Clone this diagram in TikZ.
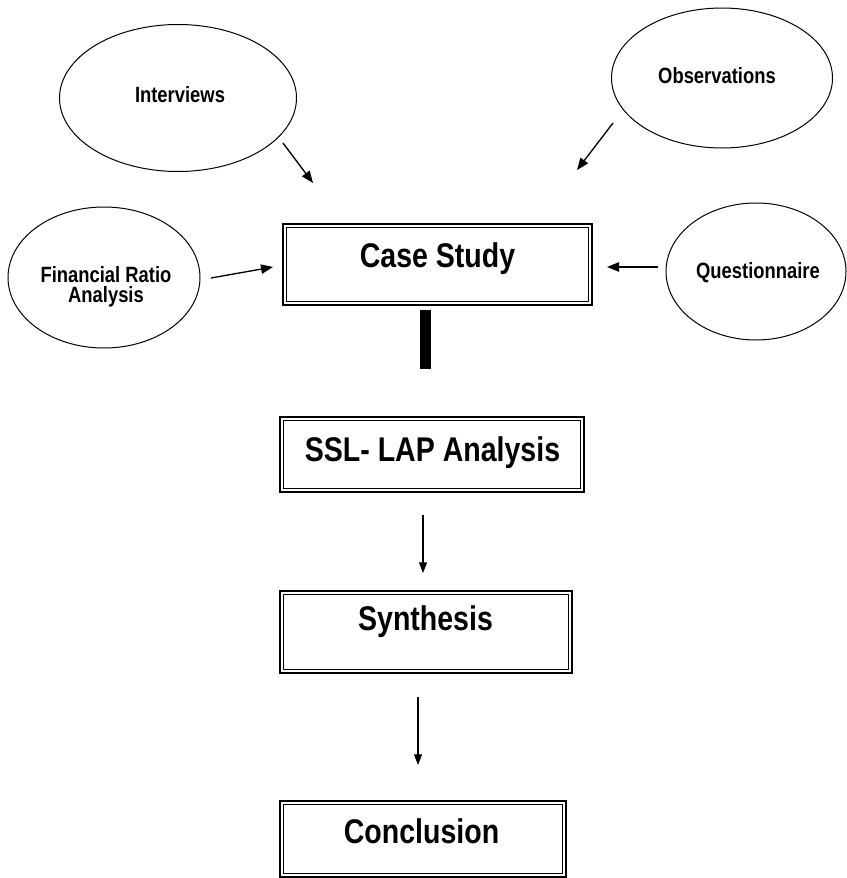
\documentclass[tikz,border=0pt]{standalone}
\usepackage{fontspec}
\setmainfont{Liberation Sans}
\usetikzlibrary{shapes.geometric,arrows.meta}
\newcommand\vst[1]{\scalebox{1}[1.2]{#1}}
\begin{document}
\begin{tikzpicture}[x=0.75pt,y=-0.75pt,
 oval/.style={draw,ellipse,line width=0.75pt,inner sep=0},
 small/.style={font=\bfseries\fontsize{13.8}{14.25}\selectfont,inner sep=0,anchor=base,align=center},
 big/.style={font=\bfseries\fontsize{21.4}{24}\selectfont,inner sep=0,anchor=base},
 box/.style={draw,line width=1.8pt,inner sep=0},
 arr/.style={-{Triangle[length=9pt,width=7pt]},line width=1pt},
 thinarr/.style={-{Triangle[length=8pt,width=6pt]},line width=0.8pt}]
\useasboundingbox (0,0) rectangle (846,878);
% ellipses
\node[oval,minimum width=177.75pt,minimum height=110.25pt] (int) at (178,98) {};
\node[small] (intt) at (180,102) {\vst{Interviews}};
\node[oval,minimum width=165.75pt,minimum height=105pt] (obs) at (722,78) {};
\node[small] (obst) at (717,83) {\vst{Observations}};
\node[oval,minimum width=144pt,minimum height=105.75pt] (fin) at (104,277.5) {};
\node[small] (fint1) at (106,282) {\vst{Financial Ratio}};
\node[small] (fint2) at (106,302) {\vst{Analysis}};
\node[oval,minimum width=135pt,minimum height=102.75pt] (que) at (756,271.5) {};
\node[small] (quet) at (758,278) {\vst{Questionnaire}};
% boxes
\node[box,minimum width=231.75pt,minimum height=60.75pt] (cs) at (437.5,264.5) {};
\node[big] (cst) at (437.5,267) {\vst{Case Study}};
\node[box,minimum width=228pt,minimum height=56.25pt] (ssl) at (432,454.5) {};
\node[big] (sslt) at (432.5,461) {\vst{SSL- LAP Analysis}};
\node[box,minimum width=219pt,minimum height=61.5pt] (syn) at (426,632) {};
\node[big] (synt) at (425.5,630) {\vst{Synthesis}};
\node[box,minimum width=214.5pt,minimum height=57pt] (con) at (423,839) {};
\node[big] (cont) at (421.5,843) {\vst{Conclusion}};
\foreach \b in {cs,ssl,syn,con}
  \draw[line width=0.8pt] ([xshift=3.2pt,yshift=3.2pt]\b.south west) rectangle ([xshift=-3.2pt,yshift=-3.2pt]\b.north east);
% bar
\node[fill,inner sep=0,minimum width=8.25pt,minimum height=44.25pt] (bar) at (425.5,339.5) {};
% arrows
\coordinate (a1s) at (283,143); \coordinate (a1e) at (313,183);
\coordinate (a2s) at (613,123); \coordinate (a2e) at (577,170);
\coordinate (a3s) at (211,278); \coordinate (a3e) at (273,267);
\coordinate (a4s) at (658,267); \coordinate (a4e) at (607,267);
\coordinate (a5s) at (423,515); \coordinate (a5e) at (423,573);
\coordinate (a6s) at (418,697); \coordinate (a6e) at (418,765);
\draw[arr] (a1s) -- (a1e);
\draw[arr] (a2s) -- (a2e);
\draw[arr] (a3s) -- (a3e);
\draw[arr] (a4s) -- (a4e);
\draw[thinarr] (a5s) -- (a5e);
\draw[thinarr] (a6s) -- (a6e);
\end{tikzpicture}
\end{document}
